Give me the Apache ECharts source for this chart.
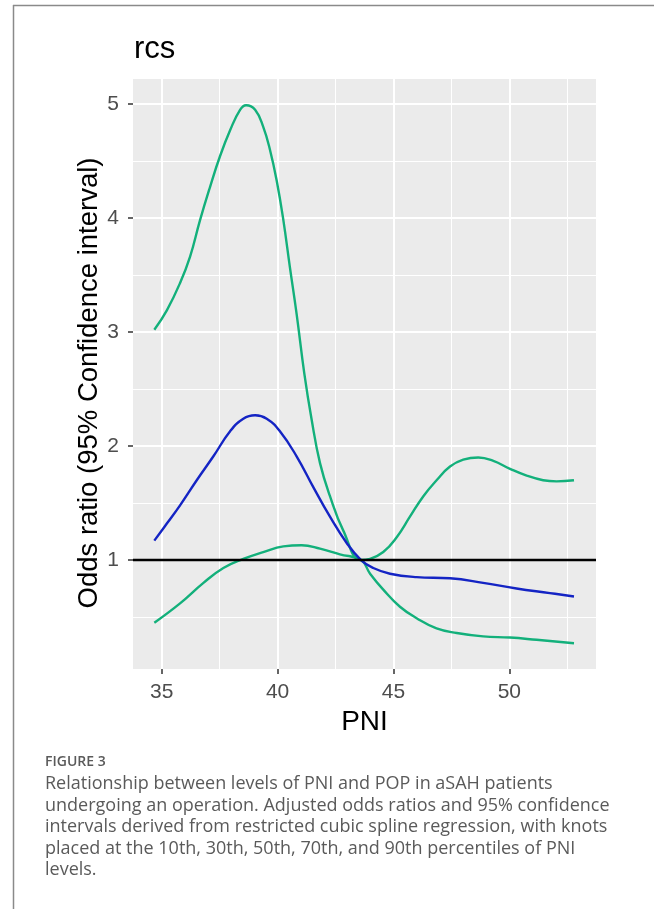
<!DOCTYPE html>
<html>
<head>
<meta charset="utf-8">
<script src="https://cdn.jsdelivr.net/npm/echarts@6/dist/echarts.min.js"></script>
<style>
  html, body { margin: 0; padding: 0; background: #fff; }
  #chart { width: 654px; height: 909px; }
</style>
</head>
<body>
<div id="chart"></div>
<script>
  // values
  const pniUpper = [34.68, 35.22, 35.79, 36.22, 36.65, 37.08, 37.51, 37.95, 38.38, 38.64, 39.03, 39.38, 39.67, 39.96, 40.25, 40.53, 40.82, 41.15, 41.47, 41.83, 42.26, 42.83, 43.6, 43.99, 44.56, 45.14, 45.71, 46.29, 46.86, 47.44, 48.01, 48.66, 49.31, 50.03, 50.75, 51.46, 52.04, 52.79];
  const orUpper = [3.02, 3.19, 3.43, 3.66, 3.98, 4.27, 4.54, 4.77, 4.95, 4.99, 4.95, 4.80, 4.60, 4.33, 3.98, 3.57, 3.16, 2.64, 2.23, 1.85, 1.56, 1.26, 1.0, 1.01, 1.07, 1.20, 1.38, 1.56, 1.70, 1.82, 1.88, 1.90, 1.87, 1.80, 1.74, 1.70, 1.69, 1.70];

  const pniFit = [34.68, 35.22, 35.79, 36.51, 37.23, 37.95, 38.52, 39.03, 39.53, 40.1, 40.82, 41.54, 42.26, 42.98, 43.6, 44.13, 44.85, 46.0, 47.44, 48.87, 50.31, 51.75, 52.79];
  const orFit = [1.17, 1.32, 1.48, 1.70, 1.91, 2.13, 2.24, 2.27, 2.24, 2.13, 1.91, 1.64, 1.38, 1.15, 1.0, 0.93, 0.88, 0.85, 0.84, 0.80, 0.75, 0.71, 0.68];

  const pniLower = [34.68, 35.79, 36.8, 37.66, 38.52, 39.38, 40.25, 41.04, 41.83, 42.69, 43.6, 43.99, 44.56, 45.28, 46.0, 46.86, 47.73, 48.87, 50.03, 51.18, 52.79];
  const orLower = [0.45, 0.62, 0.80, 0.93, 1.01, 1.07, 1.12, 1.13, 1.10, 1.05, 1.0, 0.88, 0.74, 0.59, 0.49, 0.40, 0.36, 0.33, 0.32, 0.30, 0.27];

  const xTicks = [35, 40, 45, 50];
  const yTicks = [1, 2, 3, 4, 5];
  const xMinor = [37.5, 42.5, 47.5, 52.5];
  const yMinor = [0.5, 1.5, 2.5, 3.5, 4.5];
  const refLine = 1;

  const captionHead = 'FIGURE 3';
  const captionLines = [
    'Relationship between levels of PNI and POP in aSAH patients',
    'undergoing an operation. Adjusted odds ratios and 95% confidence',
    'intervals derived from restricted cubic spline regression, with knots',
    'placed at the 10th, 30th, 50th, 70th, and 90th percentiles of PNI',
    'levels.'
  ];

  const green = '#13B07B';
  const blue = '#1424C4';
  const font = 'Liberation Sans, Arial, sans-serif';

  function pairs(xs, ys) {
    return xs.map((x, i) => [x, ys[i]]);
  }

  function gridLines() {
    let data = [];
    xTicks.forEach(v => data.push({ xAxis: v, lineStyle: { width: 2 } }));
    xMinor.forEach(v => data.push({ xAxis: v, lineStyle: { width: 1 } }));
    yTicks.forEach(v => data.push({ yAxis: v, lineStyle: { width: 2 } }));
    yMinor.forEach(v => data.push({ yAxis: v, lineStyle: { width: 1 } }));
    return data;
  }

  let chart = echarts.init(document.getElementById('chart'), null, { renderer: 'canvas' });

  let curve = (name, data, color) => ({
    name: name,
    type: 'line',
    data: data,
    z: 3,
    symbol: 'none',
    smooth: 0.45,
    lineStyle: { color: color, width: 2.4 },
    itemStyle: { color: color }
  });

  let captionTexts = captionLines.map((t, i) => ({
    type: 'text',
    left: 45,
    top: 775 + i * 21.5,
    style: { text: t, font: '18px "Open Sans", sans-serif', fill: '#5a5a5a' }
  }));

  let option = {
    animation: false,
    backgroundColor: '#fff',
    grid: {
      left: 133, right: 58, top: 79, bottom: 240,
      show: true, backgroundColor: '#EBEBEB', borderWidth: 0
    },
    xAxis: {
      type: 'value',
      min: 33.76,
      max: 53.74,
      name: 'PNI',
      nameLocation: 'middle',
      nameGap: 39,
      nameTextStyle: { fontFamily: font, fontSize: 28, color: '#000' },
      axisLine: { show: false },
      splitLine: { show: false },
      axisTick: { show: true, length: 5, customValues: xTicks, lineStyle: { color: '#333', width: 1.5 } },
      axisLabel: { customValues: xTicks, fontFamily: font, fontSize: 21, color: '#4D4D4D', margin: 13 }
    },
    yAxis: {
      type: 'value',
      min: 0.044,
      max: 5.22,
      axisLine: { show: false },
      splitLine: { show: false },
      axisTick: { show: true, length: 5, customValues: yTicks, lineStyle: { color: '#333', width: 1.5 } },
      axisLabel: { customValues: yTicks, fontFamily: font, fontSize: 21, color: '#4D4D4D', margin: 14 }
    },
    graphic: [
      { type: 'line', shape: { x1: 13, y1: 5.5, x2: 654, y2: 5.5 }, style: { stroke: '#8a8a8a', lineWidth: 1.5 } },
      { type: 'line', shape: { x1: 13.5, y1: 5, x2: 13.5, y2: 909 }, style: { stroke: '#8a8a8a', lineWidth: 1.5 } },
      { type: 'text', left: 134, top: 34, style: { text: 'rcs', font: '31px Liberation Sans, Arial, sans-serif', fill: '#000' } },
      {
        type: 'text', x: 89, y: 383, rotation: Math.PI / 2,
        style: {
          text: 'Odds ratio (95% Confidence interval)', font: '27.5px Liberation Sans, Arial, sans-serif',
          fill: '#000', align: 'center', verticalAlign: 'middle'
        }
      },
      { type: 'text', left: 45, top: 755, style: { text: captionHead, font: '600 14px "Open Sans", sans-serif', fill: '#5a5a5a' } }
    ].concat(captionTexts),
    series: [
      {
        name: 'grid',
        type: 'line',
        data: [],
        z: 1,
        silent: true,
        markLine: {
          z: 1,
          silent: true,
          symbol: 'none',
          label: { show: false },
          lineStyle: { color: '#fff', type: 'solid' },
          data: gridLines()
        }
      },
      curve('upper', pairs(pniUpper, orUpper), green),
      curve('lower', pairs(pniLower, orLower), green),
      curve('fit', pairs(pniFit, orFit), blue),
      {
        name: 'ref',
        type: 'line',
        data: [],
        z: 4,
        silent: true,
        markLine: {
          z: 6,
          silent: true,
          symbol: 'none',
          label: { show: false },
          lineStyle: { color: '#000', type: 'solid', width: 2.4 },
          data: [{ yAxis: refLine }]
        }
      }
    ]
  };

  chart.setOption(option);
</script>
</body>
</html>
